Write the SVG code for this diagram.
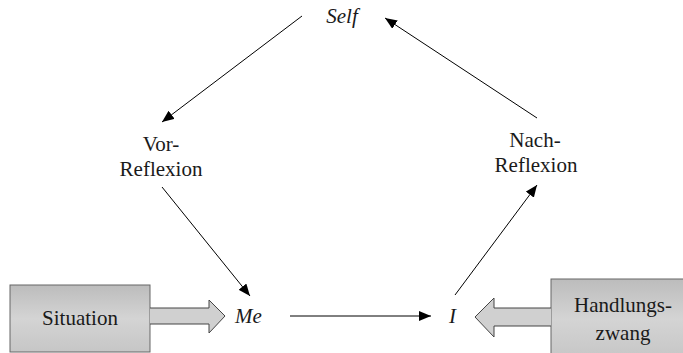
<svg xmlns="http://www.w3.org/2000/svg" width="683" height="353" viewBox="0 0 683 353">
  <defs>
    <linearGradient id="boxFill" x1="0" y1="0" x2="0" y2="1">
      <stop offset="0" stop-color="#bcbcbc"/>
      <stop offset="0.5" stop-color="#d4d4d4"/>
      <stop offset="1" stop-color="#c6c6c6"/>
    </linearGradient>
    <marker id="head" viewBox="0 0 12 10" refX="12" refY="5" markerWidth="12" markerHeight="10" markerUnits="userSpaceOnUse" orient="auto">
      <path d="M0,0 L12,5 L0,10 Z" fill="#000"/>
    </marker>
  </defs>
  <style>
    text { font-family: "Liberation Serif", "Times New Roman", serif; font-size: 21px; fill: #1a1a1a; }
    .it { font-style: italic; }
    .box { fill: url(#boxFill); stroke: #666; stroke-width: 1; }
    .block { fill: #d0d0d0; stroke: #444; stroke-width: 1; }
    .conn { stroke: #000; stroke-width: 1; fill: none; marker-end: url(#head); }
  </style>

  <g id="connectors">
    <line class="conn" x1="302" y1="16" x2="162" y2="122"/>
    <line class="conn" x1="162" y1="187" x2="250" y2="296"/>
    <line class="conn" x1="290" y1="316" x2="431" y2="316"/>
    <line class="conn" x1="455" y1="295" x2="537" y2="185"/>
    <line class="conn" x1="537" y1="118" x2="385" y2="18"/>
  </g>

  <g id="self">
    <text class="it" x="342" y="23" text-anchor="middle">Self</text>
  </g>

  <g id="vor-reflexion">
    <text x="161" y="151" text-anchor="middle">Vor-</text>
    <text x="161" y="176" text-anchor="middle">Reflexion</text>
  </g>

  <g id="nach-reflexion">
    <text x="535" y="147" text-anchor="middle">Nach-</text>
    <text x="536" y="172" text-anchor="middle">Reflexion</text>
  </g>

  <g id="me">
    <text class="it" x="235" y="323">Me</text>
  </g>

  <g id="i">
    <text class="it" x="449" y="323">I</text>
  </g>

  <g id="situation">
    <rect class="box" x="10" y="285" width="140" height="67"/>
    <text x="80" y="325" text-anchor="middle">Situation</text>
    <path class="block" d="M150,308 L209,308 L209,300 L225,316 L209,333 L209,324 L150,324"/>
  </g>

  <g id="handlungszwang">
    <rect class="box" x="551" y="279" width="140" height="80"/>
    <text x="623" y="312" text-anchor="middle">Handlungs-</text>
    <text x="623" y="340" text-anchor="middle">zwang</text>
    <path class="block" d="M551,308 L494,308 L494,298 L475,317 L494,337 L494,326 L551,326"/>
  </g>
</svg>
